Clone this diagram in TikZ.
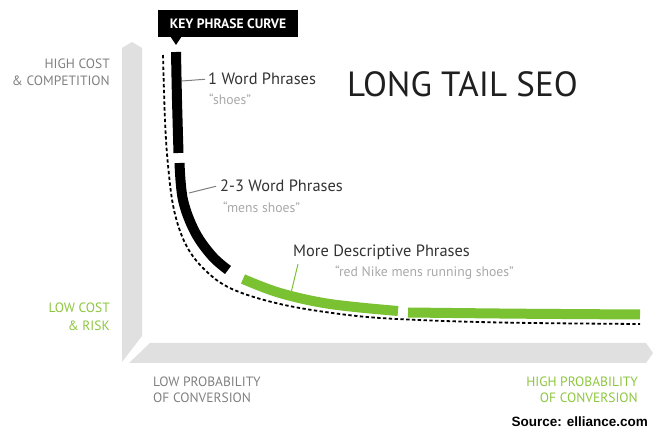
\documentclass[tikz,border=0pt]{standalone}
\usepackage{fontspec}
\setmainfont{PT Sans}
\newfontfamily\sourcefont{Liberation Sans}
\usetikzlibrary{arrows}

\definecolor{bandgray}{HTML}{E0E0E0}
\definecolor{tailgreen}{HTML}{7AC231}
\definecolor{labelgreen}{HTML}{8DC63F}
\definecolor{axisgray}{HTML}{808080}
\definecolor{quotegray}{HTML}{A8A8A8}
\definecolor{phrasegray}{HTML}{333333}

\begin{document}
\begin{tikzpicture}[x=1pt, y=-1pt,
   band/.style={fill=bandgray, draw=none},
   axislabel/.style={text=axisgray, inner sep=0pt, font=\fontsize{13.5}{15}\selectfont},
   greenlabel/.style={axislabel, text=labelgreen},
   phrase/.style={text=phrasegray, inner sep=0pt, anchor=base west, font=\fontsize{16.4}{18}\selectfont},
   example/.style={text=quotegray, inner sep=0pt, anchor=base west, font=\fontsize{13.7}{15}\selectfont},
   tail/.style={line width=10pt, line cap=butt},
   guide/.style={black, line width=1.8pt, dash pattern=on 3.4pt off 2.4pt},
   leader/.style={draw=axisgray, line width=1pt}]
\useasboundingbox (0,0) rectangle (654,435);

% axes
\fill[band] (122,48) -- (132,42) -- (142,48) -- (142,336) -- (122,362) -- cycle;
\fill[band] (150,343) -- (646,343) -- (653,353) -- (646,363) -- (129,363) -- cycle;

% dashed guide curve
\draw[guide] plot[smooth, tension=0.6] coordinates {(163,55) (165,120) (168,165) (174,210) (186,245)
   (205,270) (232,289) (280,304) (340,314) (397,319) (500,322.5) (640,324)};

% key phrase curve
\draw[tail, black] plot[smooth] coordinates {(176,52) (177,100) (178.5,153)};
\draw[tail, black] plot[smooth, tension=0.6] coordinates {(179.5,163) (183,200) (195,232) (212,256) (228,270)};
\draw[tail, tailgreen] plot[smooth, tension=0.6] coordinates {(243,279) (280,293) (330,304) (398,311)};
\draw[tail, tailgreen] plot[smooth] coordinates {(408,312.5) (520,313.7) (640,314.5)};

% callout
\node[fill=black, text=white, inner sep=0pt, minimum width=140pt, minimum height=27pt,
   font=\bfseries\fontsize{13.6}{15}\selectfont] (key) at (228,23.5) {KEY PHRASE CURVE};
\fill[black] (170,36) -- (176,45) -- (182,36) -- cycle;

% title
\node[anchor=base west, inner sep=0pt, text=phrasegray!60!black, font=\fontsize{35}{40}\selectfont] (title) at (347,97) {LONG TAIL SEO};

% axis labels
\node[axislabel, anchor=base east] (highcost) at (110,68.3) {HIGH COST};
\node[axislabel, anchor=base east] (competition) at (110,85.7) {\& COMPETITION};
\node[greenlabel, anchor=base east] (lowcost) at (110,313) {LOW COST};
\node[greenlabel, anchor=base east] (risk) at (110,331) {\& RISK};
\node[axislabel, anchor=base west] (lowprob) at (153,387) {LOW PROBABILITY};
\node[axislabel, anchor=base west] (lowconv) at (153,403) {OF CONVERSION};
\node[greenlabel, anchor=base east] (highprob) at (638,387) {HIGH PROBABILITY};
\node[greenlabel, anchor=base east] (highconv) at (638,403) {OF CONVERSION};
\node[anchor=base east, inner sep=0pt, font=\sourcefont\bfseries\fontsize{13.5}{15}\selectfont] (source) at (648,427) {Source: elliance.com};

% phrase labels
\node[phrase] (oneword) at (208,85) {1 Word Phrases};
\node[example] (shoes) at (209,105) {“shoes”};
\node[phrase] (twoword) at (220,192) {2-3 Word Phrases};
\node[example] (mens) at (223,213) {“mens shoes”};
\node[phrase] (descr) at (293,257) {More Descriptive Phrases};
\node[example] (nike) at (335,277) {“red Nike mens running shoes”};

\coordinate (onept) at (182,81);
\coordinate (twopt) at (189,193);
\coordinate (descrpt) at (291,293);
\coordinate (descrtop) at (298,264);

\path
    (onept) edge[leader] ([xshift=-3pt]oneword.west)
    (twopt) edge[leader] ([xshift=-4pt]twoword.west)
    (descrpt) edge[leader, draw=tailgreen] (descrtop)
;

\end{tikzpicture}
\end{document}
